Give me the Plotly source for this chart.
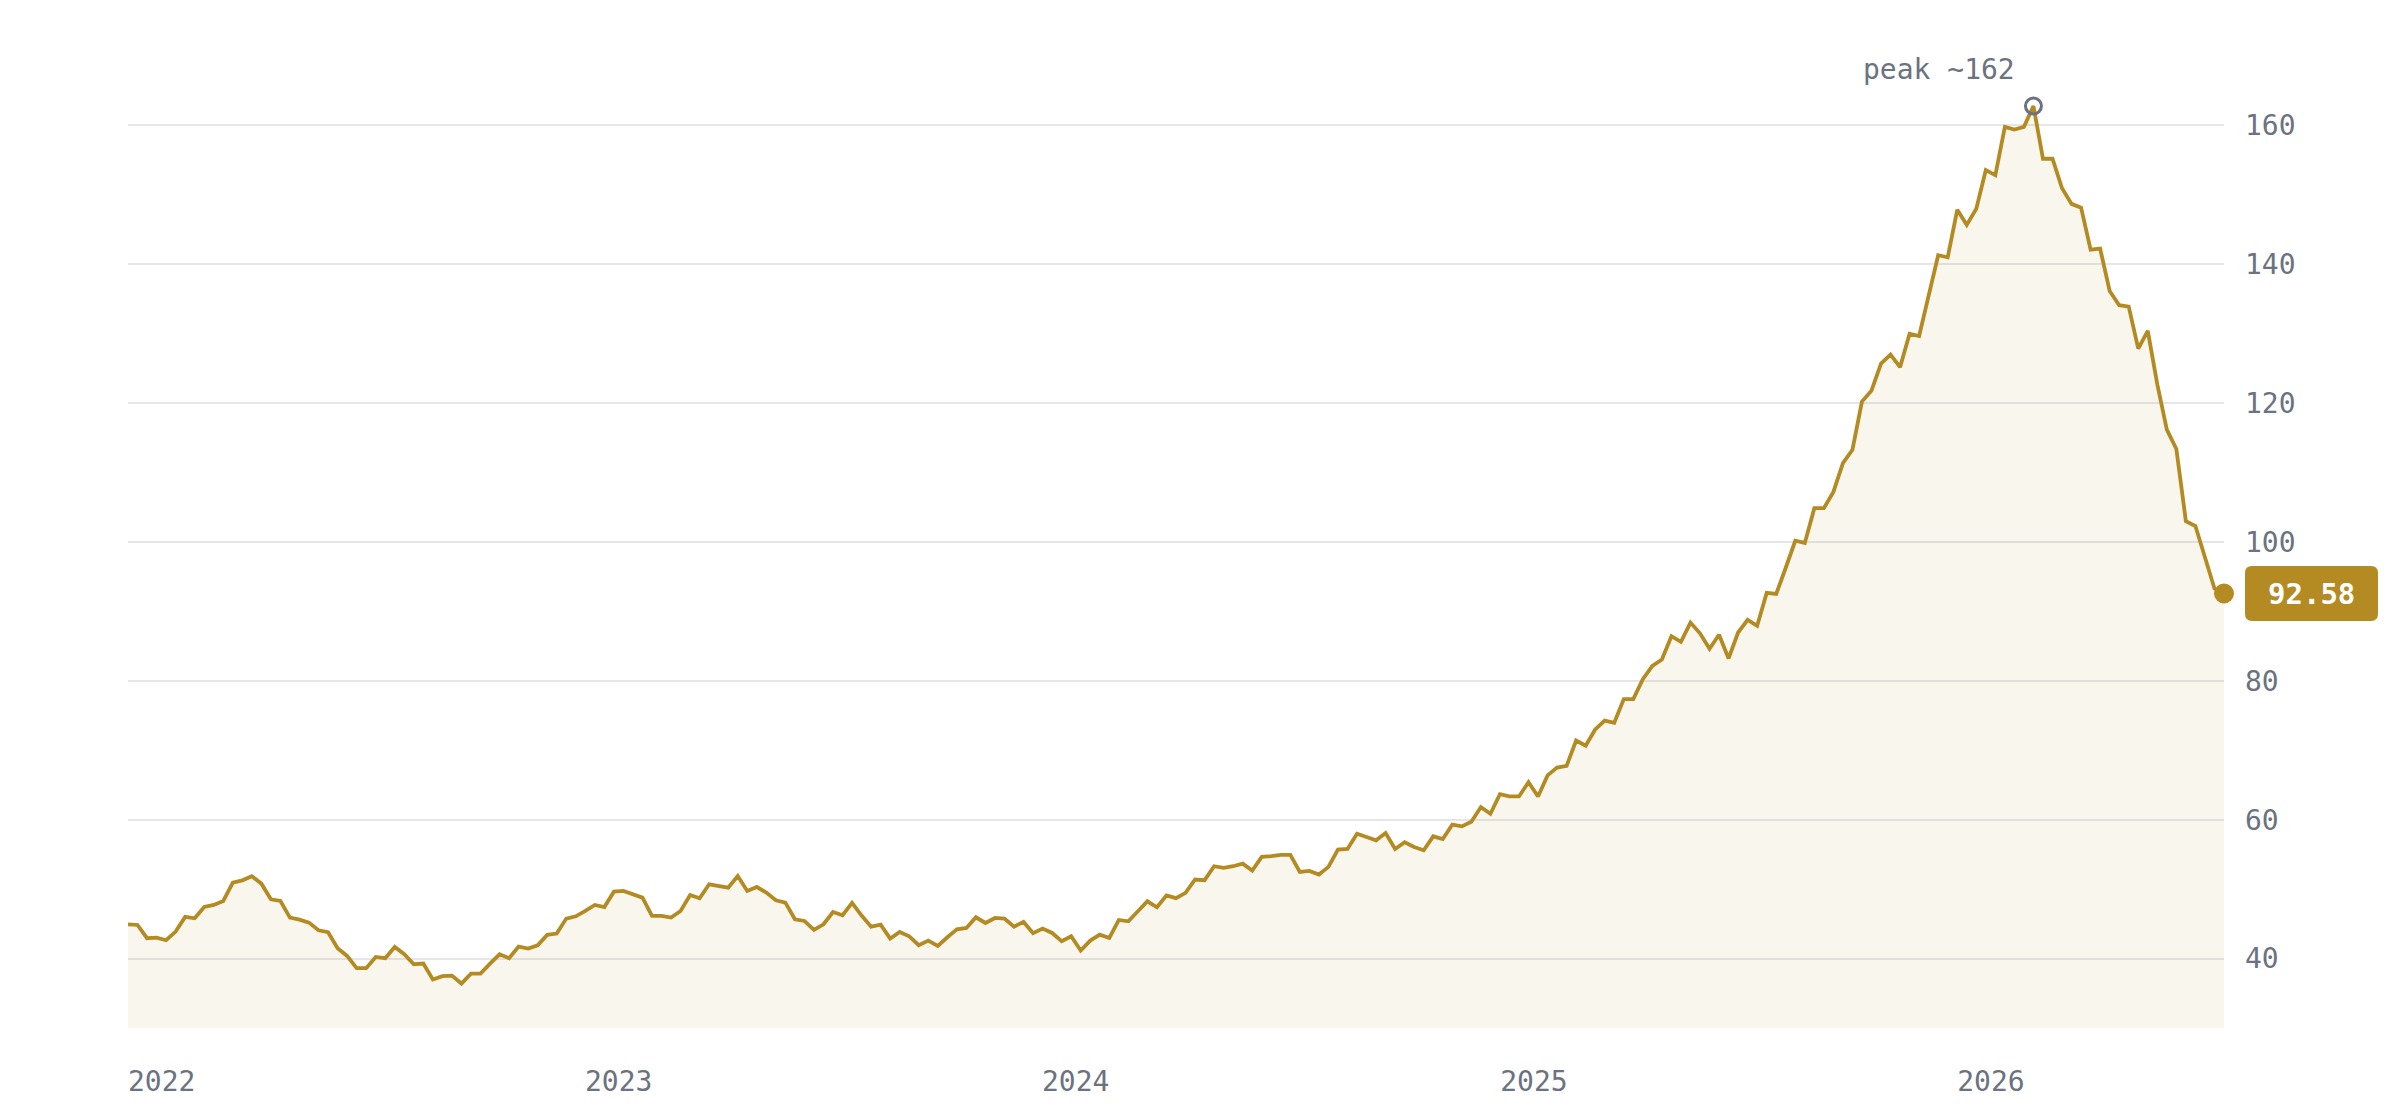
import plotly.graph_objects as go
import pandas as pd

# ---- data ----
START_DATE = "2022-01-01"
POINTS_PER_YEAR = 48

values = [
    44.94, 44.84, 42.93, 43.02, 42.64, 43.88, 46.00, 45.80, 47.43, 47.72,
    48.30, 50.94, 51.27, 51.85, 50.79, 48.54, 48.30, 45.90, 45.61, 45.18,
    44.08, 43.79, 41.49, 40.38, 38.61, 38.61, 40.24, 40.05, 41.68, 40.62,
    39.18, 39.28, 36.98, 37.46, 37.55, 36.40, 37.84, 37.84, 39.28, 40.62,
    40.05, 41.73, 41.44, 41.92, 43.41, 43.60, 45.76, 46.09, 46.86, 47.72,
    47.43, 49.64, 49.74, 49.26, 48.78, 46.14, 46.14, 45.90, 46.86, 49.16,
    48.68, 50.70, 50.50, 50.22, 51.89, 49.74, 50.31, 49.50, 48.39, 48.06,
    45.66, 45.42, 44.12, 44.94, 46.70, 46.24, 48.01, 46.19, 44.60, 44.89,
    42.88, 43.84, 43.21, 41.92, 42.59, 41.82, 43.07, 44.22, 44.41, 45.95,
    45.13, 45.85, 45.76, 44.60, 45.28, 43.65, 44.32, 43.69, 42.49, 43.21,
    41.15, 42.59, 43.45, 42.97, 45.56, 45.37, 46.81, 48.25, 47.39, 49.11,
    48.70, 49.47, 51.39, 51.29, 53.30, 53.06, 53.30, 53.68, 52.68, 54.64,
    54.74, 54.93, 54.93, 52.49, 52.63, 52.11, 53.21, 55.69, 55.79, 57.99,
    57.51, 57.03, 58.09, 55.79, 56.75, 56.08, 55.60, 57.61, 57.22, 59.28,
    59.04, 59.71, 61.82, 60.86, 63.68, 63.35, 63.35, 65.41, 63.35, 66.39,
    67.50, 67.77, 71.40, 70.65, 73.00, 74.28, 73.96, 77.37, 77.37, 80.25,
    82.17, 83.07, 86.43, 85.63, 88.40, 86.85, 84.62, 86.64, 83.23, 86.96,
    88.78, 87.92, 92.67, 92.51, 96.29, 100.18, 99.86, 104.87, 104.87, 107.22,
    111.37, 113.29, 120.22, 121.80, 125.70, 126.98, 125.19, 129.98, 129.67, 135.64,
    141.31, 141.00, 147.85, 145.68, 148.00, 153.56, 152.84, 159.80, 159.40, 159.80,
    162.80, 155.20, 155.20, 150.95, 148.70, 148.15, 142.10, 142.25, 136.15, 134.10,
    133.90, 127.85, 130.40, 122.70, 116.20, 113.40, 103.00, 102.30, 97.70, 93.30,
    92.58,
]

tick_years = [2022, 2023, 2024, 2025, 2026]
tick_labels = [str(y) for y in tick_years]
y_ticks = [40, 60, 80, 100, 120, 140, 160]
Y_MIN, Y_MAX = 30, 170

# ---- derived ----
start = pd.Timestamp(START_DATE)
dates = [start + pd.to_timedelta(i * 365.25 / POINTS_PER_YEAR, unit="D") for i in range(len(values))]
tick_dates = [pd.Timestamp(f"{y}-01-01") for y in tick_years]
peak_idx = max(range(len(values)), key=lambda i: values[i])
peak_val = values[peak_idx]
last_val = values[-1]

GOLD = "#b38b22"
GREY = "#6b7280"
FONT = "DejaVu Sans Mono"

fig = go.Figure()

fig.add_trace(go.Scatter(
    x=dates, y=values, mode="lines",
    line=dict(color=GOLD, width=3.8),
    fill="tozeroy", fillcolor="rgba(179,139,34,0.08)",
    hoverinfo="skip", showlegend=False,
))

# peak marker
fig.add_trace(go.Scatter(
    x=[dates[peak_idx]], y=[peak_val], mode="markers",
    marker=dict(symbol="circle-open", size=16, color=GREY, line=dict(width=3)),
    cliponaxis=False, hoverinfo="skip", showlegend=False,
))

# last-value marker
fig.add_trace(go.Scatter(
    x=[dates[-1]], y=[last_val], mode="markers",
    marker=dict(symbol="circle", size=20, color=GOLD),
    cliponaxis=False, hoverinfo="skip", showlegend=False,
))

fig.add_annotation(
    x=dates[peak_idx], y=peak_val, xref="x", yref="y",
    text=f"peak ~{int(peak_val)}", showarrow=False,
    xanchor="right", yanchor="middle", xshift=-16, yshift=36,
    font=dict(family=FONT, size=28, color=GREY),
)

# value badge (rounded box) next to the last point
bx0, bx1, bh, r = 21, 154, 27.5, 7
path = (
    f"M {bx0 + r},{-bh} L {bx1 - r},{-bh} Q {bx1},{-bh} {bx1},{-bh + r} "
    f"L {bx1},{bh - r} Q {bx1},{bh} {bx1 - r},{bh} L {bx0 + r},{bh} "
    f"Q {bx0},{bh} {bx0},{bh - r} L {bx0},{-bh + r} Q {bx0},{-bh} {bx0 + r},{-bh} Z"
)
fig.add_shape(
    type="path", xref="paper", yref="paper",
    xsizemode="pixel", ysizemode="pixel",
    xanchor=1, yanchor=(last_val - Y_MIN) / (Y_MAX - Y_MIN),
    path=path, fillcolor=GOLD, line=dict(width=0), layer="above",
)
fig.add_annotation(
    x=1, xref="paper", y=last_val, yref="y",
    text=f"{last_val:.2f}", showarrow=False,
    xanchor="center", yanchor="middle", xshift=(bx0 + bx1) / 2,
    font=dict(family=FONT, size=29, color="white", weight="bold"),
)

fig.update_layout(
    width=2400, height=1120,
    margin=dict(l=128, r=176, t=56, b=92),
    paper_bgcolor="white", plot_bgcolor="white",
    font=dict(family=FONT, size=28, color=GREY),
    showlegend=False,
)
fig.update_xaxes(
    range=[dates[0], dates[-1]],
    tickvals=tick_dates, ticktext=tick_labels,
    ticklabelposition="outside right",
    showgrid=False, zeroline=False, showline=False, ticks="",
    ticklabelstandoff=34,
    tickfont=dict(family=FONT, size=28, color=GREY),
)
fig.update_yaxes(
    range=[Y_MIN, Y_MAX], side="right",
    tickvals=y_ticks,
    showgrid=True, gridcolor="#e6e6ea", gridwidth=1.5,
    zeroline=False, showline=False, ticks="",
    ticklabelstandoff=20,
    tickfont=dict(family=FONT, size=28, color=GREY),
)

fig.write_html(
    "out.html",
    config={"displayModeBar": False},
    post_script="document.body.style.margin='0';",
)
